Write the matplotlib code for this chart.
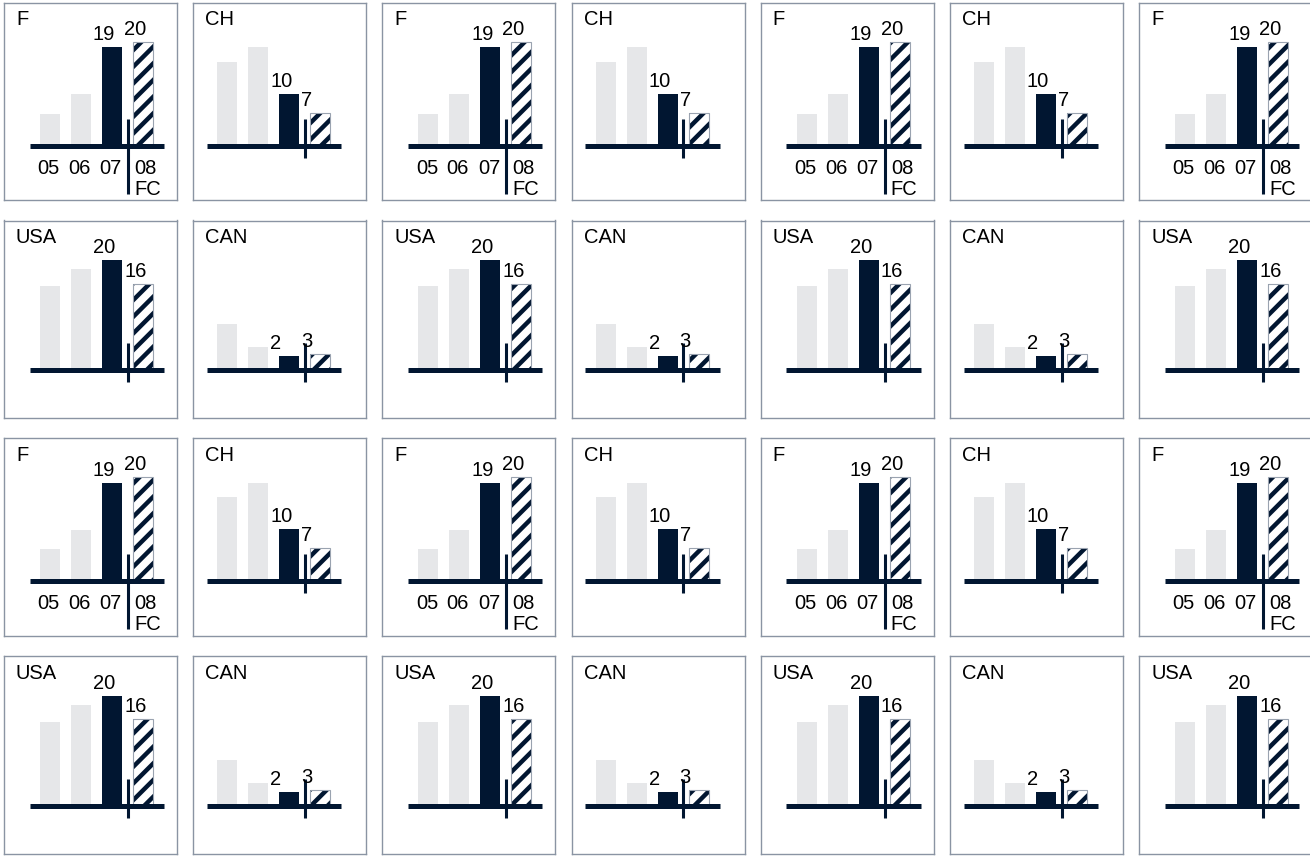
import matplotlib
matplotlib.use("Agg")
import matplotlib.pyplot as plt

plt.rcParams["font.family"] = ["Liberation Sans", "DejaVu Sans"]
plt.rcParams["hatch.linewidth"] = 3.2

# 数据：05-07 实际值，08 为预测（FC）
years = ["05", "06", "07", "08"]
forecast_tag = "FC"

f_values = [6.2, 9.9, 19.0, 20.0]
f_labels = ["", "", "19", "20"]
ch_values = [16.2, 19.0, 10.0, 6.4]
ch_labels = ["", "", "10", "7"]
usa_values = [15.2, 18.3, 20.0, 15.7]
usa_labels = ["", "", "20", "16"]
can_values = [8.3, 4.1, 2.5, 2.9]
can_labels = ["", "", "2", "3"]

NAVY = "#011631"
GREY = "#e6e7e9"
BOX = "#8a94a3"
FS = 14.5

W, H = 1310, 856
fig = plt.figure(figsize=(W / 100, H / 100), dpi=100)

PANEL_W, PANEL_H = 173, 197.5
STEP = 31      # 柱子中心间距（像素）
BAR_W = 20 / STEP


def draw_panel(left, top, name, values, labels, show_years, x0, base, scale):
    """画一个小面板。x0 = 第一根柱子中心离左边框的像素，base = 基线离上边框的像素。"""
    ax = fig.add_axes([left / W, 1 - (top + PANEL_H) / H, PANEL_W / W, PANEL_H / H])
    ax.set_xlim(-x0 / STEP, (PANEL_W - x0) / STEP)
    ax.set_ylim(-(PANEL_H - base) / scale, base / scale)
    ax.set_xticks([])
    ax.set_yticks([])
    for sp in ax.spines.values():
        sp.set_color(BOX)
        sp.set_linewidth(1.0)

    x = list(range(len(values)))
    ax.bar(x[:3], values[:3], width=BAR_W, color=[GREY, GREY, NAVY], linewidth=0)
    # 预测柱：斜线填充 + 细灰边
    ax.bar(x[3], values[3], width=BAR_W, facecolor="white", edgecolor=NAVY,
           hatch="//", linewidth=0)
    ax.bar(x[3], values[3], width=BAR_W, fill=False, edgecolor="#9aa3b0", linewidth=0.8)

    ax.plot([-0.66, 3.68], [0, 0], color=NAVY, lw=3.6, solid_capstyle="butt")
    below = 48 if show_years else 12
    ax.plot([2.51, 2.51], [-below / scale, 27 / scale], color=NAVY, lw=2.2,
            solid_capstyle="butt")

    for i, (v, lab) in enumerate(zip(values, labels)):
        if lab:
            ax.annotate(lab, xy=(i - BAR_W / 2, v), xytext=(-9, 7),
                        textcoords="offset pixels", ha="left", va="baseline", fontsize=FS)

    if show_years:
        for i in range(3):
            ax.annotate(years[i], xy=(i, 0), xytext=(-1.5, -28),
                        textcoords="offset pixels", ha="center", va="baseline", fontsize=FS)
        ax.annotate(years[3], xy=(3 - BAR_W / 2, 0), xytext=(1, -28),
                    textcoords="offset pixels", ha="left", va="baseline", fontsize=FS)
        ax.annotate(forecast_tag, xy=(3 - BAR_W / 2, 0), xytext=(1, -49),
                    textcoords="offset pixels", ha="left", va="baseline", fontsize=FS)

    ax.text(12 / PANEL_W, 1 - 22.5 / PANEL_H, name, transform=ax.transAxes,
            ha="left", va="baseline", fontsize=FS)


for r in range(4):
    top = 2.7 + 217.8 * r
    europe = r % 2 == 0
    for c in range(7):
        left = 4 + 189.2 * c
        first = c % 2 == 0
        if europe:
            name, vals, labs = ("F", f_values, f_labels) if first else ("CH", ch_values, ch_labels)
            base, scale = 143.1, 5.2
        else:
            name, vals, labs = ("USA", usa_values, usa_labels) if first else ("CAN", can_values, can_labels)
            base, scale = 149.5, 5.5
        draw_panel(left, top, name, vals, labs, europe and first,
                   46 if first else 34, base, scale)

fig.savefig("out.png", dpi=100)
